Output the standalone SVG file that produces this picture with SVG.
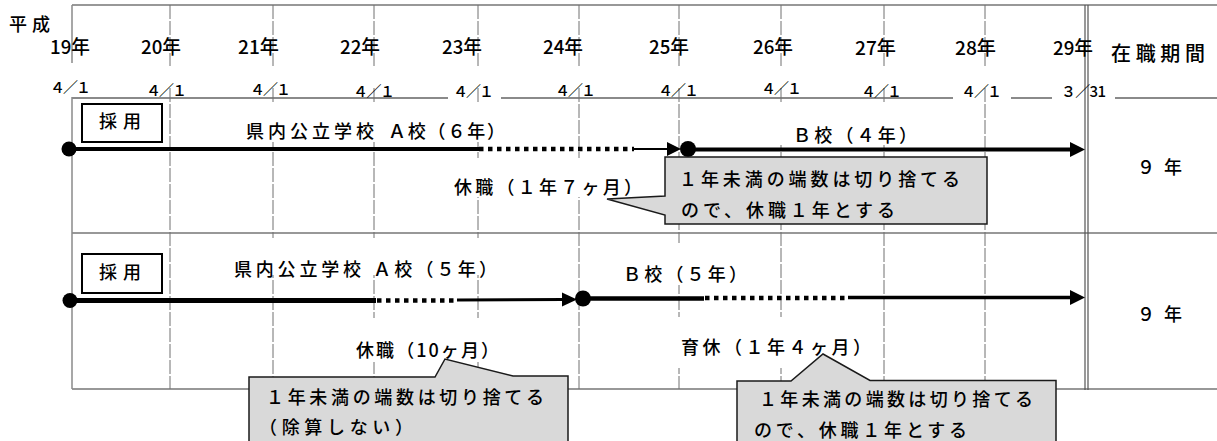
<svg xmlns="http://www.w3.org/2000/svg" width="1217" height="441" viewBox="0 0 1217 441">
<style>
text{font-family:"Noto Sans CJK JP","Noto Sans",sans-serif;fill:#000;font-weight:500;}
.lbl{font-size:18px;}
.yr{font-size:19px;}
.dt{font-size:15px;}
.grid{stroke:#707070;stroke-width:1;stroke-dasharray:14 2;fill:none;}
.solid{stroke:#333;stroke-width:1.2;fill:none;}
.hdr{stroke:#8a8a8a;stroke-width:2;fill:none;}
.bg{fill:#fff;stroke:none;}
.thick{stroke:#000;fill:none;}
.dots{stroke:#000;stroke-width:4.5;stroke-dasharray:4.5 4.5;fill:none;}
.head{fill:#000;}
.callout{fill:#d9d9d9;stroke:#1a1a1a;stroke-width:1.5;}
.box{fill:#fff;stroke:#000;stroke-width:2;}
</style>

<g id="grid">
  <line class="solid" x1="72" y1="5" x2="1217" y2="5"/>
  <line class="hdr" x1="72" y1="98" x2="448" y2="98"/>
  <line class="hdr" x1="501" y1="98" x2="953" y2="98"/>
  <line class="hdr" x1="1011" y1="98" x2="1052" y2="98"/>
  <line class="hdr" x1="1115" y1="98" x2="1217" y2="98"/>
  <line class="solid" x1="72" y1="233" x2="1217" y2="233"/>
  <line class="solid" x1="72" y1="389" x2="1217" y2="389"/>
  <path class="hdr" style="stroke-width:1.5" d="M72,5V63M72,97V389"/>
  <path class="grid" d="M170,5V66M170,88V389M273,5V66M273,88V389M374,5V66M374,88V389M478,5V66M478,88V389M579,5V66M579,88V389M679,5V66M679,88V389M781,5V66M781,88V389M884,5V66M884,88V389M985,5V66M985,88V389"/>
  <path class="solid" style="stroke:#555" d="M1085,5V390M1088,5V390"/>
</g>

<g id="label-bg">
  <rect class="bg" x="240" y="103" width="265" height="39"/>
  <rect class="bg" x="770" y="102" width="160" height="43"/>
  <rect class="bg" x="450" y="158" width="195" height="39"/>
  <rect class="bg" x="228" y="238" width="267" height="37"/>
  <rect class="bg" x="612" y="243" width="140" height="42"/>
  <rect class="bg" x="350" y="318" width="150" height="44"/>
  <rect class="bg" x="672" y="317" width="200" height="51"/>
</g>

<g id="header">
  <text class="lbl" x="9" y="30.5" textLength="41" lengthAdjust="spacing">平成</text>
  <text class="yr" x="50" y="53.5" textLength="40" lengthAdjust="spacingAndGlyphs">19年</text>
  <text class="yr" x="141" y="53.5" textLength="40" lengthAdjust="spacingAndGlyphs">20年</text>
  <text class="yr" x="238" y="53.5" textLength="41" lengthAdjust="spacingAndGlyphs">21年</text>
  <text class="yr" x="340" y="53.5" textLength="40" lengthAdjust="spacingAndGlyphs">22年</text>
  <text class="yr" x="442" y="53.5" textLength="40" lengthAdjust="spacingAndGlyphs">23年</text>
  <text class="yr" x="543" y="53.5" textLength="40" lengthAdjust="spacingAndGlyphs">24年</text>
  <text class="yr" x="649" y="53.5" textLength="40" lengthAdjust="spacingAndGlyphs">25年</text>
  <text class="yr" x="753" y="53.5" textLength="40" lengthAdjust="spacingAndGlyphs">26年</text>
  <text class="yr" x="855" y="54.5" textLength="41" lengthAdjust="spacingAndGlyphs">27年</text>
  <text class="yr" x="955" y="54.5" textLength="41" lengthAdjust="spacingAndGlyphs">28年</text>
  <text class="yr" x="1053" y="54.5" textLength="40" lengthAdjust="spacingAndGlyphs">29年</text>
  <text x="1111" y="60.5" style="font-size:20px" textLength="94" lengthAdjust="spacing">在職期間</text>
  <text class="dt" x="50" y="93" textLength="41" lengthAdjust="spacing">４／１</text>
  <text class="dt" x="146" y="96" textLength="41" lengthAdjust="spacing">４／１</text>
  <text class="dt" x="250" y="95" textLength="41" lengthAdjust="spacing">４／１</text>
  <text class="dt" x="353" y="97" textLength="42" lengthAdjust="spacing">４／１</text>
  <text class="dt" x="453" y="97" textLength="41" lengthAdjust="spacing">４／１</text>
  <text class="dt" x="555" y="96" textLength="41" lengthAdjust="spacing">４／１</text>
  <text class="dt" x="658" y="96" textLength="41" lengthAdjust="spacing">４／１</text>
  <text class="dt" x="761" y="94" textLength="41" lengthAdjust="spacing">４／１</text>
  <text class="dt" x="861" y="97" textLength="41" lengthAdjust="spacing">４／１</text>
  <text class="dt" x="961" y="97" textLength="41" lengthAdjust="spacing">４／１</text>
  <text class="dt" x="1061" y="97" textLength="45" lengthAdjust="spacing">３／31</text>
</g>

<g id="connectors">
  <line class="thick" stroke-width="4" x1="69" y1="149" x2="479" y2="149"/>
  <line class="dots" x1="479" y1="149" x2="634" y2="149"/>
  <line class="thick" stroke-width="2" x1="634" y1="149" x2="668" y2="149"/>
  <polygon class="head" points="667,142 681,149 667,156"/>
  <line class="thick" stroke-width="4" x1="688" y1="149.5" x2="1072" y2="149.5"/>
  <polygon class="head" points="1070,142 1085,149.5 1070,157"/>
  <circle class="head" cx="69" cy="149" r="7.5"/>
  <circle class="head" cx="688" cy="149" r="8"/>

  <line class="thick" stroke-width="5" x1="70" y1="300.5" x2="376" y2="300.5"/>
  <line class="dots" x1="377" y1="300.5" x2="457" y2="300.5"/>
  <line class="thick" stroke-width="3" x1="457" y1="300" x2="563" y2="299.5"/>
  <polygon class="head" points="562,292.5 577,299.5 562,306.5"/>
  <line class="thick" stroke-width="4.5" x1="583" y1="298.5" x2="704" y2="298.5"/>
  <line class="dots" x1="705" y1="298" x2="848" y2="298"/>
  <line class="thick" stroke-width="3.5" x1="848" y1="297.5" x2="1072" y2="297.5"/>
  <polygon class="head" points="1070,290 1085,297.5 1070,305"/>
  <circle class="head" cx="70" cy="300.5" r="7.5"/>
  <circle class="head" cx="583" cy="298.5" r="8"/>
</g>

<g id="row1">
  <g id="saiyo1">
    <rect class="box" x="82" y="104" width="80" height="38"/>
    <text class="lbl" x="99" y="127.5" textLength="42" lengthAdjust="spacing">採用</text>
  </g>
  <text id="a6" class="lbl" x="246" y="137.5"><tspan textLength="128" lengthAdjust="spacing">県内公立学校</tspan><tspan x="388" textLength="117" lengthAdjust="spacing">Ａ校（６年）</tspan></text>
  <text id="b4" class="lbl" x="793" y="141.5" textLength="124" lengthAdjust="spacing">Ｂ校（４年）</text>
  <text id="kyu1" class="lbl" x="454" y="193.5" textLength="188" lengthAdjust="spacing">休職（１年７ヶ月）</text>
  <g id="note1">
    <path class="callout" d="M665,157H987V224H665V215L607,199L665,196Z"/>
    <text class="lbl" x="679" y="185.5" textLength="281" lengthAdjust="spacing">１年未満の端数は切り捨てる</text>
    <text class="lbl" x="681" y="216.5" textLength="214" lengthAdjust="spacing">ので、休職１年とする</text>
  </g>
  <text id="total1" class="lbl" x="1137" y="173.5" textLength="45" lengthAdjust="spacing">９年</text>
</g>

<g id="row2">
  <g id="saiyo2">
    <rect class="box" x="82" y="254" width="80" height="39"/>
    <text class="lbl" x="99" y="278.5" textLength="42" lengthAdjust="spacing">採用</text>
  </g>
  <text id="a5" class="lbl" x="234" y="275.5"><tspan textLength="127" lengthAdjust="spacing">県内公立学校</tspan><tspan x="373" textLength="124" lengthAdjust="spacing">Ａ校（５年）</tspan></text>
  <text id="b5" class="lbl" x="623" y="280.5" textLength="124" lengthAdjust="spacing">Ｂ校（５年）</text>
  <text id="kyu2" class="lbl" x="356" y="356.5" textLength="143" lengthAdjust="spacing">休職（10ヶ月）</text>
  <text id="ikukyu" class="lbl" x="681" y="353.5" textLength="190" lengthAdjust="spacing">育休（１年４ヶ月）</text>
  <g id="note2">
    <path class="callout" d="M249,377H435L445,359L513,376H568V446H249Z"/>
    <text class="lbl" x="266" y="403.5" textLength="278" lengthAdjust="spacing">１年未満の端数は切り捨てる</text>
    <text class="lbl" x="259" y="433.5" textLength="154" lengthAdjust="spacing">（除算しない）</text>
  </g>
  <g id="note3">
    <path class="callout" d="M737,381H791L823,354L870,380.5H1056V446H737Z"/>
    <text class="lbl" x="759" y="405.5" textLength="274" lengthAdjust="spacing">１年未満の端数は切り捨てる</text>
    <text class="lbl" x="754" y="436.5" textLength="213" lengthAdjust="spacing">ので、休職１年とする</text>
  </g>
  <text id="total2" class="lbl" x="1137" y="320.5" textLength="45" lengthAdjust="spacing">９年</text>
</g>
</svg>
